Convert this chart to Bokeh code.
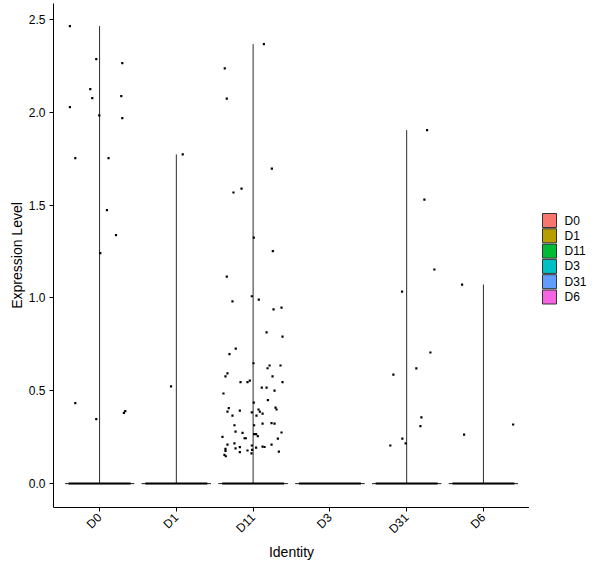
import math
from bokeh.plotting import figure
from bokeh.layouts import row
from bokeh.models import Range1d, FixedTicker, NumeralTickFormatter
from bokeh.core.properties import value
from bokeh.embed import file_html
from bokeh.resources import INLINE

idents = ["D0", "D1", "D11", "D3", "D31", "D6"]
colors = ["#F8766D", "#B79F00", "#00BA38", "#00BFC4", "#619CFF", "#F564E3"]

# non-zero cells per identity: expression value and horizontal jitter (in category units)
expr_D0 = [2.464, 2.028, 1.753, 2.286, 2.125, 2.076, 1.983, 1.753, 2.265, 2.087,
           1.968, 1.473, 1.338, 1.241, 0.433, 0.347, 0.381, 0.390]
jit_D0 = [-0.386, -0.386, -0.316, -0.043, -0.121, -0.095, -0.004, 0.117, 0.296, 0.283,
          0.296, 0.096, 0.214, 0.009, -0.316, -0.043, 0.317, 0.335]

expr_D1 = [1.773, 0.523]
jit_D1 = [0.083, -0.069]

expr_D11 = [2.236, 2.074, 2.367, 1.697, 1.568, 1.589, 1.325, 1.252, 1.115,
            1.009, 0.991, 0.981, 0.948, 0.938, 0.814, 0.792, 0.727, 0.697, 0.648,
            0.636, 0.636, 0.621, 0.593, 0.577, 0.577, 0.555, 0.546, 0.546, 0.546,
            0.517, 0.517, 0.501, 0.485, 0.449, 0.436, 0.409, 0.399, 0.406, 0.388,
            0.393, 0.399, 0.388, 0.383, 0.377, 0.366, 0.366, 0.323, 0.325, 0.323,
            0.314, 0.314, 0.275, 0.266, 0.266, 0.280, 0.273, 0.255, 0.242, 0.251,
            0.244, 0.244, 0.210, 0.216, 0.210, 0.199, 0.197, 0.205, 0.196, 0.194,
            0.187, 0.176, 0.189, 0.178, 0.181, 0.169, 0.163, 0.172, 0.155, 0.147]
jit_D11 = [-0.369, -0.343, 0.140, 0.244, -0.256, -0.151, 0.009, 0.257, -0.343,
           -0.017, 0.074, -0.269, 0.370, 0.266, 0.175, 0.383, -0.226, -0.308, 0.005,
           0.214, 0.357, 0.188, -0.334, -0.360, 0.253, -0.043, -0.073, -0.164, 0.383,
           0.113, 0.175, 0.279, -0.386, 0.192, 0.009, 0.292, 0.305, -0.317, -0.334,
           -0.173, 0.070, 0.087, -0.017, 0.123, -0.269, 0.044, 0.279, 0.240, 0.123,
           0.013, -0.243, 0.370, 0.013, 0.039, -0.229, -0.138, 0.061, 0.322, -0.399,
           -0.112, -0.095, -0.334, -0.243, 0.240, 0.123, 0.149, -0.017, -0.173, 0.039,
           -0.360, -0.360, -0.229, -0.073, -0.013, -0.173, -0.021, 0.335, -0.373, -0.356]

expr_D3 = []
jit_D3 = []

expr_D31 = [1.904, 1.530, 1.153, 1.034, 0.706, 0.620, 0.587, 0.357, 0.309, 0.242, 0.216, 0.205]
jit_D31 = [0.266, 0.231, 0.361, -0.060, 0.309, 0.126, -0.173, 0.192, 0.179, -0.056, -0.013, -0.213]

expr_D6 = [1.072, 0.264, 0.318]
jit_D6 = [-0.278, -0.252, 0.387]

expr = [expr_D0, expr_D1, expr_D11, expr_D3, expr_D31, expr_D6]
jit = [jit_D0, jit_D1, jit_D11, jit_D3, jit_D31, jit_D6]

FONT = "Liberation Sans"

p = figure(width=529, height=568, output_backend="svg", toolbar_location=None,
           x_range=Range1d(0.4, 6.6), y_range=Range1d(-0.129, 2.586),
           min_border_left=53, min_border_top=3, min_border_bottom=61, min_border_right=0)
p.outline_line_color = None
p.grid.grid_line_color = None

pos = list(range(1, len(idents) + 1))

# violin bodies (flat: nearly all cells are zero)
p.quad(left=[c - 0.45 for c in pos], right=[c + 0.45 for c in pos], bottom=[0] * 6, top=[0] * 6,
       fill_color=colors, line_color="#333333", line_width=0.8)
p.segment(x0=[c - 0.45 for c in pos], x1=[c + 0.45 for c in pos], y0=[0] * 6, y1=[0] * 6,
          line_color="#333333", line_width=0.8)

# violin tails up to the max value
tx, ty = [], []
for c, e in zip(pos, expr):
    if e:
        tx.append(c)
        ty.append(max(e))
p.segment(x0=tx, x1=tx, y0=[0] * len(tx), y1=ty, line_color="#2b2b2b", line_width=1)

# the many zero-expression cells form a dense band
p.segment(x0=[c - 0.404 for c in pos], x1=[c + 0.404 for c in pos], y0=[0] * 6, y1=[0] * 6,
          line_color="black", line_width=2)

px, py = [], []
for c, e, j in zip(pos, expr, jit):
    for v, o in zip(e, j):
        px.append(c + o)
        py.append(v)
p.scatter(px, py, marker="square", size=2.2, fill_color="black", line_color=None)

# axes
p.xaxis.ticker = FixedTicker(ticks=pos)
p.xaxis.major_label_overrides = {c: n for c, n in zip(pos, idents)}
p.xaxis.major_label_orientation = math.pi / 4
p.yaxis.ticker = FixedTicker(ticks=[0, 0.5, 1.0, 1.5, 2.0, 2.5])
p.yaxis.formatter = NumeralTickFormatter(format="0.0")
p.xaxis.axis_label = "Identity"
p.yaxis.axis_label = "Expression Level"
for ax in [p.xaxis, p.yaxis]:
    ax.axis_line_color = "black"
    ax.axis_line_width = 1
    ax.major_tick_line_color = "black"
    ax.major_tick_out = 4
    ax.major_tick_in = 0
    ax.minor_tick_line_color = None
    ax.major_label_text_font = FONT
    ax.major_label_text_font_size = "12px"
    ax.major_label_text_color = "black"
    ax.major_label_standoff = 4
    ax.axis_label_text_font = FONT
    ax.axis_label_text_font_size = "14px"
    ax.axis_label_text_font_style = "normal"
    ax.axis_label_text_color = "black"
p.xaxis.axis_label_standoff = 0
p.yaxis.axis_label_standoff = 1

# legend panel on the right; its frame lines up with the main frame (y 3..507, y downwards)
leg = figure(width=71, height=568, output_backend="svg", toolbar_location=None,
             x_range=Range1d(529, 600), y_range=Range1d(507, 3),
             x_axis_location=None, y_axis_location=None,
             min_border_left=0, min_border_right=0, min_border_top=3, min_border_bottom=61)
leg.outline_line_color = None
leg.grid.grid_line_color = None
rows_y = [220 + 15.3 * i for i in range(len(idents))]
leg.rect(x=[549] * len(idents), y=rows_y, width=14, height=14, fill_color=colors,
         line_color="#333333", line_width=1)
leg.text(x=[564] * len(idents), y=rows_y, text=idents, text_font=value(FONT),
         text_font_size="12px", text_color="black", text_baseline="middle", text_align="left")

layout = row(p, leg, spacing=0)
open("out.html", "w").write(file_html(layout, INLINE))
